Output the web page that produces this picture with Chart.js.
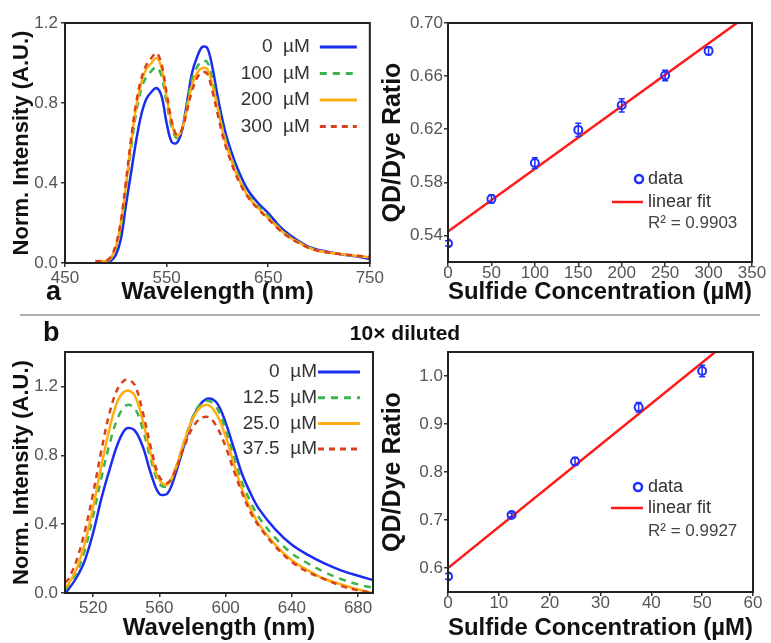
<!DOCTYPE html>
<html>
<head>
<meta charset="utf-8">
<script src="https://cdn.jsdelivr.net/npm/chart.js@4"></script>
<style>
  body { margin: 0; background: #fff; }
  #wrap { position: relative; width: 771px; height: 643px; overflow: hidden; font-family: 'Liberation Sans', Arial, sans-serif; }
  canvas { position: absolute; }
  .lbl { position: absolute; font-weight: bold; color: #111; line-height: 1; z-index: 2; }
</style>
</head>
<body>
<div id="wrap">
  <canvas id="specA" width="385" height="310" style="left:0;top:0"></canvas>
  <canvas id="fitA" width="396" height="310" style="left:375px;top:0"></canvas>
  <canvas id="specB" width="385" height="323" style="left:0;top:320px"></canvas>
  <canvas id="fitB" width="396" height="323" style="left:375px;top:320px"></canvas>
  <div class="lbl" style="left:46px;top:278px;font-size:27px">a</div>
  <div class="lbl" style="left:43px;top:319px;font-size:27px">b</div>
  <div class="lbl" style="left:305px;top:322px;width:200px;text-align:center;font-size:21px">10× diluted</div>
  <div style="position:absolute;left:20px;top:314px;width:740px;height:1.5px;background:#b0b0b0"></div>
</div>
<script>
// ---- panel a, spectra ----
const specAWavelength = [480, 490, 495, 500, 505, 510, 515, 520, 525, 530, 535, 540, 545, 550, 555, 560, 565, 570, 575, 580, 585, 590, 595, 600, 605, 610, 620, 630, 640, 650, 660, 670, 680, 690, 700, 720, 740, 750];
const specA0   = [0.0, 0.0, 0.01, 0.04, 0.12, 0.29, 0.45, 0.61, 0.74, 0.82, 0.855, 0.875, 0.835, 0.70, 0.605, 0.60, 0.66, 0.80, 0.95, 1.03, 1.08, 1.075, 0.98, 0.84, 0.715, 0.615, 0.47, 0.365, 0.30, 0.25, 0.19, 0.145, 0.11, 0.08, 0.065, 0.045, 0.03, 0.02];
const specA100 = [0.005, 0.005, 0.02, 0.07, 0.18, 0.37, 0.57, 0.75, 0.87, 0.93, 0.96, 0.98, 0.935, 0.80, 0.68, 0.625, 0.665, 0.79, 0.92, 0.98, 1.01, 1.005, 0.92, 0.80, 0.68, 0.585, 0.445, 0.345, 0.285, 0.235, 0.18, 0.135, 0.105, 0.078, 0.062, 0.045, 0.033, 0.025];
const specA200 = [0.01, 0.01, 0.025, 0.08, 0.2, 0.39, 0.6, 0.78, 0.90, 0.97, 1.0, 1.025, 0.975, 0.83, 0.70, 0.635, 0.665, 0.77, 0.89, 0.95, 0.975, 0.97, 0.89, 0.78, 0.66, 0.57, 0.43, 0.335, 0.275, 0.225, 0.175, 0.132, 0.102, 0.076, 0.06, 0.045, 0.034, 0.027];
const specA300 = [0.01, 0.01, 0.03, 0.09, 0.21, 0.41, 0.62, 0.80, 0.92, 0.99, 1.025, 1.05, 0.995, 0.85, 0.71, 0.64, 0.665, 0.76, 0.86, 0.925, 0.955, 0.945, 0.86, 0.75, 0.64, 0.555, 0.42, 0.33, 0.27, 0.22, 0.17, 0.13, 0.10, 0.075, 0.06, 0.045, 0.035, 0.03];
const specALabels = ['0  µM', '100  µM', '200  µM', '300  µM'];
const specAXTicks = [450, 550, 650, 750];
const specAYTicks = [0, 0.4, 0.8, 1.2];

// ---- panel b, spectra (10x diluted) ----
const specBWavelength = [503, 505, 510, 515, 520, 525, 530, 535, 540, 545, 550, 555, 560, 565, 570, 575, 580, 585, 590, 595, 600, 605, 610, 615, 620, 630, 640, 650, 660, 670, 680, 689];
const specB0    = [0.0, 0.02, 0.09, 0.19, 0.35, 0.55, 0.72, 0.87, 0.955, 0.945, 0.85, 0.69, 0.575, 0.58, 0.70, 0.86, 1.01, 1.10, 1.13, 1.10, 0.99, 0.84, 0.69, 0.58, 0.49, 0.37, 0.28, 0.22, 0.17, 0.13, 0.10, 0.075];
const specB12_5 = [0.02, 0.04, 0.12, 0.25, 0.45, 0.67, 0.87, 1.02, 1.09, 1.075, 0.95, 0.77, 0.635, 0.62, 0.73, 0.88, 1.02, 1.10, 1.115, 1.07, 0.95, 0.79, 0.64, 0.53, 0.44, 0.32, 0.23, 0.17, 0.12, 0.08, 0.05, 0.03];
const specB25   = [0.03, 0.05, 0.14, 0.29, 0.50, 0.74, 0.96, 1.12, 1.175, 1.15, 1.0, 0.80, 0.655, 0.63, 0.73, 0.88, 1.01, 1.08, 1.09, 1.03, 0.91, 0.75, 0.60, 0.49, 0.40, 0.28, 0.19, 0.13, 0.08, 0.05, 0.02, 0.0];
const specB37_5 = [0.06, 0.08, 0.19, 0.36, 0.58, 0.83, 1.05, 1.19, 1.24, 1.21, 1.05, 0.84, 0.675, 0.64, 0.72, 0.85, 0.96, 1.015, 1.02, 0.96, 0.85, 0.71, 0.58, 0.47, 0.39, 0.27, 0.18, 0.12, 0.08, 0.04, 0.015, 0.0];
const specBLabels = ['0  µM', '12.5  µM', '25.0  µM', '37.5  µM'];
const specBXTicks = [520, 560, 600, 640, 680];
const specBYTicks = [0, 0.4, 0.8, 1.2];

// ---- calibration, panel a ----
const fitAConc  = [0, 50, 100, 150, 200, 250, 300];
const fitARatio = [0.534, 0.5675, 0.5945, 0.6195, 0.638, 0.6605, 0.679];
const fitAErr   = [0.002, 0.003, 0.004, 0.005, 0.005, 0.004, 0.003];
const fitALineX = [0, 350];
const fitALineY = [0.543, 0.7082];
const fitAR2 = 'R² = 0.9903';
const fitAXTicks = [0, 50, 100, 150, 200, 250, 300, 350];
const fitAYTicks = [0.54, 0.58, 0.62, 0.66, 0.70];

// ---- calibration, panel b ----
const fitBConc  = [0, 12.5, 25, 37.5, 50];
const fitBRatio = [0.5825, 0.7105, 0.822, 0.935, 1.0105];
const fitBErr   = [0.006, 0.004, 0.008, 0.01, 0.012];
const fitBLineX = [0, 60];
const fitBLineY = [0.600, 1.1136];
const fitBR2 = 'R² = 0.9927';
const fitBXTicks = [0, 10, 20, 30, 40, 50, 60];
const fitBYTicks = [0.6, 0.7, 0.8, 0.9, 1.0];

Chart.defaults.font.family = "'Liberation Sans', Arial, sans-serif";
Chart.defaults.animation = false;

// blue drawn underneath, red dashed on top
const SERIES_STYLE = [
  { color: '#1a2cf0', dash: [], order: 4 },
  { color: '#3cb44b', dash: [7, 6], order: 3 },
  { color: '#ffad10', dash: [], order: 2 },
  { color: '#d9411e', dash: [6, 5], order: 1 }
];

function pts(xs, ys) {
  return xs.map((x, i) => ({ x: x, y: ys[i] }));
}

const boxPlugin = {
  id: 'box',
  afterDraw(chart) {
    const { ctx, chartArea: a } = chart;
    ctx.save();
    ctx.strokeStyle = '#222';
    ctx.lineWidth = 2;
    ctx.strokeRect(a.left, a.top, a.right - a.left, a.bottom - a.top);
    ctx.restore();
  }
};

const specLegend = {
  id: 'specLegend',
  afterDraw(chart, args, o) {
    const { ctx, chartArea: a } = chart;
    ctx.save();
    ctx.font = o.size + "px 'Liberation Sans', Arial, sans-serif";
    ctx.textBaseline = 'middle';
    chart.data.datasets.forEach((ds, i) => {
      const y = a.top + o.firstRow + i * o.rowStep;
      ctx.fillStyle = '#333';
      ctx.textAlign = 'right';
      ctx.fillText(ds.label, a.right + o.textRight, y);
      ctx.strokeStyle = ds.borderColor;
      ctx.lineWidth = 3;
      ctx.setLineDash(ds.borderDash || []);
      ctx.beginPath();
      ctx.moveTo(a.right + o.lineStart, y);
      ctx.lineTo(a.right + o.lineEnd, y);
      ctx.stroke();
      ctx.setLineDash([]);
    });
    ctx.restore();
  }
};

const fitLegend = {
  id: 'fitLegend',
  afterDraw(chart, args, o) {
    const { ctx, chartArea: a } = chart;
    ctx.save();
    ctx.font = "18px 'Liberation Sans', Arial, sans-serif";
    ctx.textBaseline = 'middle';
    ctx.textAlign = 'left';
    ctx.strokeStyle = '#1f2fff';
    ctx.lineWidth = 2.5;
    ctx.beginPath();
    ctx.arc(a.right + o.markX, a.top + o.markY, 4, 0, Math.PI * 2);
    ctx.stroke();
    ctx.strokeStyle = '#ff1a1a';
    ctx.beginPath();
    ctx.moveTo(a.right + o.lineX0, a.top + o.lineY);
    ctx.lineTo(a.right + o.lineX1, a.top + o.lineY);
    ctx.stroke();
    ctx.fillStyle = '#333';
    ctx.fillText(chart.data.datasets[0].label, a.right + o.textX, a.top + o.markY);
    ctx.fillText(chart.data.datasets[1].label, a.right + o.textX, a.top + o.lineY);
    ctx.fillStyle = '#444';
    ctx.font = "17px 'Liberation Sans', Arial, sans-serif";
    ctx.fillText(o.r2, a.right + o.textX, a.top + o.r2Y);
    ctx.restore();
  }
};

const errorBars = {
  id: 'errorBars',
  afterDatasetsDraw(chart) {
    const { ctx } = chart;
    const xs = chart.scales.x, ys = chart.scales.y;
    ctx.save();
    chart.data.datasets.forEach(ds => {
      if (!ds.errors) return;
      ctx.strokeStyle = ds.borderColor;
      ctx.lineWidth = 1.5;
      ds.data.forEach((p, i) => {
        const px = xs.getPixelForValue(p.x);
        const top = ys.getPixelForValue(p.y + ds.errors[i]);
        const bot = ys.getPixelForValue(p.y - ds.errors[i]);
        ctx.beginPath();
        ctx.moveTo(px, top); ctx.lineTo(px, bot);
        ctx.moveTo(px - 3, top); ctx.lineTo(px + 3, top);
        ctx.moveTo(px - 3, bot); ctx.lineTo(px + 3, bot);
        ctx.stroke();
      });
    });
    ctx.restore();
  }
};

function axisCommon(tickList, decimals, tickPad, fitSize, isY) {
  return {
    type: 'linear',
    afterBuildTicks: s => { s.ticks = tickList.map(v => ({ value: v })); },
    afterFit: s => { if (isY) s.width = fitSize; else s.height = fitSize; },
    ticks: {
      color: '#555',
      font: { size: 17 },
      padding: tickPad,
      autoSkip: false,
      maxRotation: 0,
      callback: v => v.toFixed(decimals)
    },
    grid: { drawOnChartArea: false, drawTicks: true, tickLength: 4, color: '#333', lineWidth: 1.5 },
    border: { display: false }
  };
}

function spectrumChart(id, wl, series, labels, xTicks, yTicks, xMin, xMax, yMax, lay, legendOpts) {
  const x = axisCommon(xTicks, 0, 1, lay.xh, false);
  x.min = xMin; x.max = xMax;
  x.title = { display: true, text: 'Wavelength (nm)', color: '#111', font: { size: 24, weight: 'bold' }, padding: { top: 0, bottom: lay.tb } };
  const y = axisCommon(yTicks, 1, 3, 65, true);
  y.min = 0; y.max = yMax;
  y.title = { display: true, text: 'Norm. Intensity (A.U.)', color: '#111', font: { size: 22, weight: 'bold' }, padding: { top: 9, bottom: 0 } };
  return new Chart(document.getElementById(id), {
    type: 'line',
    data: {
      datasets: series.map((s, i) => ({
        label: labels[i],
        data: pts(wl, s),
        borderColor: SERIES_STYLE[i].color,
        borderDash: SERIES_STYLE[i].dash,
        order: SERIES_STYLE[i].order,
        borderWidth: 2.5,
        pointRadius: 0,
        tension: 0.35,
        fill: false
      }))
    },
    options: {
      responsive: false,
      devicePixelRatio: 1,
      layout: { padding: { top: lay.top, right: lay.right, left: 0, bottom: 0 } },
      plugins: { legend: { display: false }, tooltip: { enabled: false }, specLegend: legendOpts },
      scales: { x: x, y: y }
    },
    plugins: [boxPlugin, specLegend]
  });
}

function calibChart(id, cx, cy, err, lx, ly, xTicks, yTicks, yDec, xMax, yMin, yMax, lay, legendOpts) {
  const x = axisCommon(xTicks, 0, -3, lay.xh, false);
  x.min = 0; x.max = xMax;
  x.title = { display: true, text: 'Sulfide Concentration (µM)', color: '#111', font: { size: 24, weight: 'bold' }, padding: { top: 0, bottom: lay.tb } };
  const y = axisCommon(yTicks, yDec, 1, 73, true);
  y.min = yMin; y.max = yMax;
  y.title = { display: true, text: 'QD/Dye Ratio', color: '#111', font: { size: 25, weight: 'bold' }, padding: { top: 3, bottom: 0 } };
  return new Chart(document.getElementById(id), {
    type: 'scatter',
    data: {
      datasets: [
        {
          label: 'data',
          data: pts(cx, cy),
          errors: err,
          borderColor: '#1f2fff',
          backgroundColor: 'rgba(0,0,0,0)',
          borderWidth: 2,
          pointRadius: 4
        },
        {
          label: 'linear fit',
          data: pts(lx, ly),
          showLine: true,
          borderColor: '#ff1a1a',
          borderWidth: 2.5,
          pointRadius: 0
        }
      ]
    },
    options: {
      responsive: false,
      devicePixelRatio: 1,
      layout: { padding: { top: lay.top, right: lay.right, left: 0, bottom: 0 } },
      plugins: { legend: { display: false }, tooltip: { enabled: false }, fitLegend: legendOpts },
      scales: { x: x, y: y }
    },
    plugins: [boxPlugin, errorBars, fitLegend]
  });
}

spectrumChart('specA', specAWavelength, [specA0, specA100, specA200, specA300], specALabels,
  specAXTicks, specAYTicks, 450, 750, 1.2,
  { top: 23, right: 12, xh: 47, tb: 3 },
  { size: 19, textRight: -60, lineStart: -50, lineEnd: -13, firstRow: 24, rowStep: 26.5 });

spectrumChart('specB', specBWavelength, [specB0, specB12_5, specB25, specB37_5], specBLabels,
  specBXTicks, specBYTicks, 503, 689, 1.4,
  { top: 32, right: 12, xh: 50, tb: 0 },
  { size: 19, textRight: -56, lineStart: -55, lineEnd: -13, firstRow: 20, rowStep: 25.7 });

calibChart('fitA', fitAConc, fitARatio, fitAErr, fitALineX, fitALineY,
  fitAXTicks, fitAYTicks, 2, 350, 0.52, 0.70,
  { top: 23, right: 19, xh: 48, tb: 3 },
  { markX: -113, markY: 156, lineX0: -140, lineX1: -109, lineY: 179, textX: -104, r2Y: 200, r2: fitAR2 });

calibChart('fitB', fitBConc, fitBRatio, fitBErr, fitBLineX, fitBLineY,
  fitBXTicks, fitBYTicks, 1, 60, 0.55, 1.05,
  { top: 32, right: 18, xh: 51, tb: 0 },
  { markX: -115, markY: 135, lineX0: -142, lineX1: -110, lineY: 156, textX: -105, r2Y: 179, r2: fitBR2 });
</script>
</body>
</html>
